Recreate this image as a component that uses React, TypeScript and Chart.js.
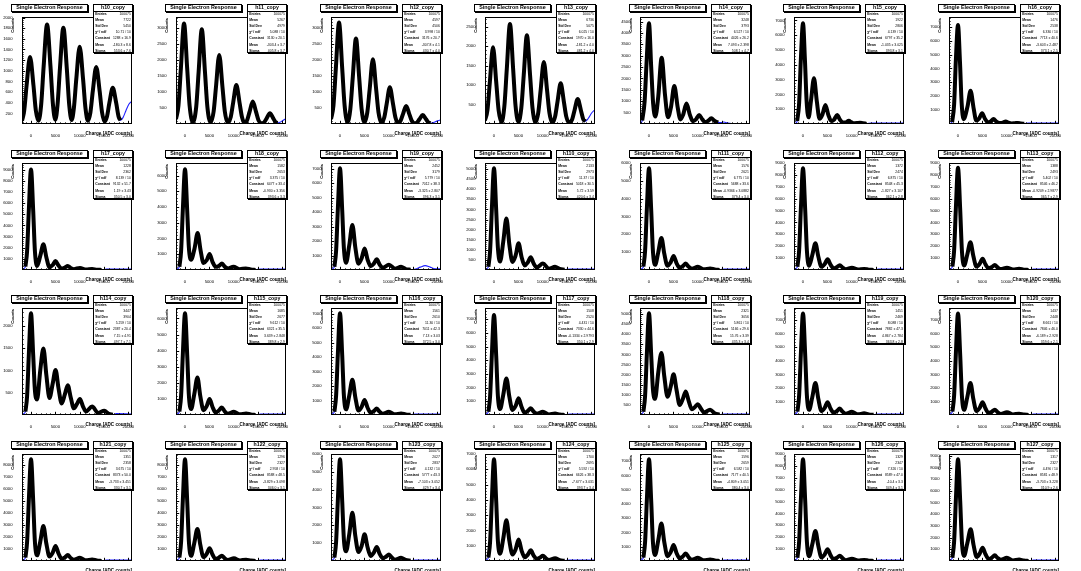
import React, { useEffect, useRef } from 'react';
import { Chart, registerables } from 'chart.js';
Chart.register(...registerables);

const FONT = '"Liberation Sans", Arial, Helvetica, sans-serif';
const X_MIN = -1850;
const X_MAX = 20750;
const X_TICKS = [0, 5000, 10000, 15000, 20000];
const X_MINOR_STEP = 1000;
const TITLE = 'Single Electron Response';
const X_TITLE = 'Charge [ADC counts]';
const Y_TITLE = 'Counts';
const STAT_LABELS = ['Entries', 'Mean', 'Std Dev', 'χ² / ndf', 'Constant', 'Mean', 'Sigma'];

// ---------------- row 1 ----------------
const h10Hist = [[-1850, 60], [-1400, 250], [-900, 730], [-200, 1260], [500, 730], [1000, 250], [1550, 60],
  [2100, 375], [2600, 1085], [3300, 1870], [4000, 1085], [4500, 375], [5000, 80],
  [5450, 360], [5950, 1050], [6650, 1810], [7350, 1050], [7850, 360], [8350, 75],
  [8800, 290], [9300, 840], [10000, 1450], [10700, 840], [11200, 290], [11700, 60],
  [12200, 215], [12700, 620], [13400, 1070], [14100, 620], [14600, 215], [15100, 45],
  [15600, 135], [16100, 395], [16800, 680], [17500, 395], [18000, 135], [18400, 70]];
const h10FitHead = [];
const h10FitTail = [[18900, 120], [19500, 250], [20100, 370], [20750, 430]];
const h10Stats = ['100075', '7722', '5450', '10.71 / 10', '1288 ± 16.9', '-180.3 ± 8.6', '553.6 ± 7.6'];

const h11Hist = [[-1850, 150], [-1350, 565], [-850, 1720], [-200, 3130], [450, 1720], [950, 565], [1625, 60],
  [2300, 530], [2800, 1620], [3450, 2950], [4100, 1620], [4600, 530], [5240, 50],
  [5880, 390], [6380, 1180], [7030, 2150], [7680, 1180], [8180, 390], [8790, 40],
  [9400, 220], [9900, 670], [10550, 1215], [11200, 670], [11700, 220], [12240, 30],
  [12780, 125], [13280, 385], [13930, 700], [14580, 385], [15080, 125], [15690, 25],
  [16300, 60], [16800, 183], [17450, 333], [18100, 183], [18600, 60], [19000, 35]];
const h11FitHead = [];
const h11FitTail = [[19500, 55], [20100, 110], [20750, 170]];
const h11Stats = ['100075', '5267', '4979', '5.088 / 10', '3130 ± 20.1', '-303.4 ± 3.7', '405.8 ± 3.7'];

const h12Hist = [[-1850, 150], [-1350, 570], [-850, 1750], [-200, 3176], [450, 1750], [950, 570], [1540, 60],
  [2130, 480], [2630, 1475], [3280, 2680], [3930, 1475], [4430, 480], [5020, 50],
  [5610, 365], [6110, 1115], [6760, 2025], [7410, 1115], [7910, 365], [8500, 40],
  [9090, 205], [9590, 630], [10240, 1150], [10890, 630], [11390, 205], [11920, 30],
  [12440, 100], [12940, 310], [13590, 563], [14240, 310], [14740, 100], [15300, 20],
  [15850, 50], [16350, 155], [17000, 282], [17650, 155], [18150, 50], [18600, 25]];
const h12FitHead = [];
const h12FitTail = [[19200, 45], [19900, 90], [20750, 135]];
const h12Stats = ['100075', '4597', '4506', '3.998 / 10', '3176 ± 20.7', '-307.8 ± 4.1', '430.7 ± 4.0'];

const h13Hist = [[-1850, 95], [-1350, 355], [-850, 1085], [-200, 1970], [450, 1085], [950, 355], [1540, 50],
  [2130, 460], [2630, 1415], [3280, 2570], [3930, 1415], [4430, 460], [5020, 55],
  [5610, 410], [6110, 1255], [6760, 2280], [7410, 1255], [7910, 410], [8500, 45],
  [9090, 285], [9590, 880], [10240, 1595], [10890, 880], [11390, 285], [11970, 35],
  [12550, 190], [13050, 575], [13700, 1045], [14350, 575], [14850, 190], [15450, 35],
  [16050, 115], [16550, 355], [17200, 645], [17850, 355], [18350, 115], [18800, 70]];
const h13FitHead = [];
const h13FitTail = [[19400, 150], [20100, 290], [20750, 370]];
const h13Stats = ['100075', '6736', '5075', '6.025 / 10', '1970 ± 16.0', '-181.2 ± 4.0', '481.2 ± 4.0'];

const h14Hist = [[-1400, 150], [-900, 1000], [-500, 2700], [0, 4420], [450, 2500], [850, 900], [1300, 330],
  [1900, 1200], [2600, 2915], [3300, 1250], [3900, 300],
  [4500, 720], [5200, 1670], [5900, 720], [6450, 200],
  [7000, 400], [7700, 895], [8400, 400], [9000, 120],
  [9600, 190], [10300, 395], [11000, 190], [11550, 80],
  [12100, 130], [12800, 250], [13500, 130], [14200, 60]];
const h14FitHead = [[-1850, 10], [-1600, 60]];
const h14FitTail = [[14800, 60], [15400, 90], [16000, 50], [17000, 15], [18500, 8], [20750, 5]];
const h14Stats = ['100075', '3248', '3793', '6.527 / 10', '4426 ± 26.2', '7.093 ± 2.398', '508.1 ± 4.7'];

const h15Hist = [[-1200, 200], [-800, 1400], [-450, 4300], [0, 6800], [400, 4300], [750, 1500], [1150, 450],
  [1650, 1600], [2250, 3090], [2850, 1500], [3400, 350],
  [4000, 650], [4600, 1290], [5200, 620], [5800, 200],
  [6400, 300], [7000, 610], [7600, 290], [8200, 100],
  [8800, 110], [9400, 215], [10000, 100], [10600, 50],
  [11100, 60], [11700, 90], [12300, 45], [13000, 20]];
const h15FitHead = [[-1850, 10], [-1500, 60]];
const h15FitTail = [[14000, 60], [16000, 70], [20750, 70]];
const h15Stats = ['100075', '1922', '2806', '4.139 / 10', '6797 ± 35.2', '-1.035 ± 3.025', '393.8 ± 3.1'];

const h16Hist = [[-1200, 150], [-800, 1400], [-450, 4500], [0, 7120], [400, 4500], [750, 1500], [1150, 350],
  [1950, 1250], [2580, 2390], [3200, 1150], [3750, 250],
  [4350, 400], [4950, 770], [5550, 370], [6150, 120],
  [6700, 180], [7300, 360], [7900, 170], [8550, 80],
  [9200, 100], [9800, 180], [10400, 90], [11000, 40],
  [11700, 60], [12300, 80], [12900, 40], [13600, 15]];
const h16FitHead = [[-1850, 10], [-1500, 60]];
const h16FitTail = [[14500, 75], [20750, 75]];
const h16Stats = ['100075', '1476', '2538', '6.330 / 10', '7713 ± 40.6', '-3.603 ± 2.487', '373.1 ± 2.5'];

// ---------------- row 2 ----------------
const h17Hist = [[-1150, 300], [-800, 1710], [-450, 5320], [0, 9020], [450, 5320], [800, 1710], [1250, 370],
  [1900, 1265], [2550, 2300], [3150, 1150], [3800, 240],
  [4450, 445], [5050, 805], [5650, 400], [6300, 125],
  [6950, 215], [7550, 355], [8150, 180], [8800, 75],
  [10050, 190], [11300, 36], [12550, 90], [13500, 27], [14500, 7]];
const h17FitHead = [[-1850, 30], [-1500, 110]];
const h17FitTail = [[15500, 96], [20750, 96]];
const h17Stats = ['100075', '1228', '2362', '8.139 / 10', '9132 ± 51.7', '1.19 ± 3.43', '350.5 ± 3.0'];

const h18Hist = [[-1150, 210], [-800, 1220], [-450, 3780], [0, 6400], [450, 3780], [800, 1400], [1250, 650],
  [1950, 1350], [2600, 2350], [3200, 1250], [3800, 450],
  [4450, 620], [5050, 1020], [5650, 520], [6300, 200],
  [6950, 260], [7600, 410], [8200, 200], [8850, 100],
  [9950, 205], [11250, 50], [12500, 100], [13500, 30], [14500, 8]];
const h18FitHead = [[-1850, 20], [-1500, 80]];
const h18FitTail = [[15500, 68], [20750, 68]];
const h18Stats = ['100075', '1582', '2653', '3.375 / 10', '6477 ± 33.4', '-0.930 ± 3.356', '393.6 ± 3.3'];

const h19Hist = [[-1150, 230], [-800, 1340], [-450, 4150], [0, 7030], [450, 4150], [800, 1500], [1250, 500],
  [1900, 1710], [2550, 3110], [3150, 1555], [3800, 440],
  [4450, 815], [5050, 1480], [5650, 740], [6300, 260],
  [6950, 440], [7550, 740], [8150, 370], [8800, 150],
  [10050, 370], [11300, 90], [12550, 220], [13500, 65], [14500, 20]];
const h19FitHead = [[-1850, 22], [-1500, 90]];
const h19FitTail = [[15500, 60], [16500, 200], [17500, 300], [18500, 200], [19500, 90], [20750, 75]];
const h19Stats = ['100075', '2452', '3179', '5.779 / 10', '7012 ± 38.3', '-3.325 ± 2.807', '396.3 ± 3.1'];

const h110Hist = [[-1150, 165], [-800, 955], [-450, 2970], [0, 5035], [450, 2970], [800, 1100], [1250, 420],
  [1900, 1400], [2550, 2545], [3150, 1270], [3800, 400],
  [4450, 730], [5050, 1325], [5650, 660], [6300, 220],
  [6950, 380], [7550, 636], [8150, 320], [8800, 130],
  [10050, 318], [11300, 65], [12550, 160], [13500, 48], [14500, 13]];
const h110FitHead = [[-1850, 16], [-1500, 64]];
const h110FitTail = [[15500, 53], [20750, 53]];
const h110Stats = ['100075', '2133', '2973', '11.37 / 10', '5018 ± 30.5', '5.72 ± 3.59', '420.6 ± 3.4'];

const h111Hist = [[-1150, 190], [-800, 1080], [-450, 3360], [0, 5700], [450, 3360], [800, 1080], [1250, 290],
  [1900, 990], [2550, 1800], [3150, 900], [3800, 235],
  [4450, 430], [5050, 780], [5650, 390], [6300, 125],
  [6950, 215], [7550, 360], [8150, 180], [8800, 72],
  [10050, 180], [11300, 36], [12550, 90], [13500, 27], [14500, 7]];
const h111FitHead = [[-1850, 18], [-1500, 72]];
const h111FitTail = [[15500, 60], [20750, 60]];
const h111Stats = ['100075', '1576', '2621', '6.775 / 10', '5688 ± 33.6', '-0.9366 ± 3.0882', '379.4 ± 3.0'];

const h112Hist = [[-1150, 280], [-800, 1625], [-450, 5045], [0, 8550], [450, 5045], [800, 1625], [1250, 360],
  [1900, 1240], [2550, 2250], [3150, 1125], [3800, 270],
  [4450, 495], [5050, 900], [5650, 450], [6300, 140],
  [6950, 245], [7550, 405], [8150, 200], [8800, 72],
  [10050, 180], [11300, 36], [12550, 90], [13500, 27], [14500, 7]];
const h112FitHead = [[-1850, 27], [-1500, 108]];
const h112FitTail = [[15500, 90], [20750, 90]];
const h112Stats = ['100075', '1372', '2474', '6.875 / 10', '8548 ± 45.3', '-1.827 ± 3.107', '362.1 ± 2.8'];

const h113Hist = [[-1150, 285], [-800, 1635], [-450, 5075], [0, 8600], [450, 5075], [800, 1635], [1250, 375],
  [1900, 1290], [2550, 2340], [3150, 1170], [3800, 285],
  [4450, 520], [5050, 945], [5650, 470], [6300, 145],
  [6950, 250], [7550, 420], [8150, 210], [8800, 76],
  [10050, 190], [11300, 38], [12550, 95], [13500, 28], [14500, 8]];
const h113FitHead = [[-1850, 27], [-1500, 108]];
const h113FitTail = [[15500, 90], [20750, 90]];
const h113Stats = ['100075', '1388', '2493', '5.402 / 10', '8546 ± 46.2', '-0.9209 ± 2.9877', '365.7 ± 2.9'];

// ---------------- row 3 ----------------
const h114Hist = [[-1150, 75], [-800, 430], [-450, 1345], [0, 2280], [450, 1345], [800, 560], [1250, 350],
  [1900, 1000], [2550, 1490], [3150, 900], [3800, 380],
  [4450, 700], [5050, 1010], [5650, 600], [6300, 260],
  [6950, 460], [7550, 670], [8150, 400], [8800, 150],
  [9450, 250], [10050, 360], [10650, 200], [11300, 80],
  [12550, 190], [13800, 45], [15050, 96], [16000, 25], [16800, 8]];
const h114FitHead = [[-1850, 7], [-1500, 29]];
const h114FitTail = [[17500, 30], [20750, 24]];
const h114Stats = ['100075', '3447', '3904', '5.259 / 10', '2387 ± 20.4', '7.15 ± 4.91', '497.7 ± 7.1'];

const h115Hist = [[-1150, 210], [-800, 1200], [-450, 3730], [0, 6320], [450, 3730], [800, 1200], [1250, 370],
  [1900, 1280], [2550, 2330], [3150, 1165], [3800, 300],
  [4450, 550], [5050, 1000], [5650, 500], [6300, 160],
  [6950, 280], [7550, 465], [8150, 230], [8800, 80],
  [10050, 200], [11300, 40], [12550, 100], [13500, 30], [14500, 8]];
const h115FitHead = [[-1850, 20], [-1500, 80]];
const h115FitTail = [[15500, 66], [20750, 66]];
const h115Stats = ['100075', '1685', '2677', '9.612 / 10', '6321 ± 35.5', '3.639 ± 2.848', '389.8 ± 2.9'];

const h116Hist = [[-1150, 230], [-800, 1335], [-450, 4150], [0, 7030], [450, 4150], [800, 1335], [1250, 390],
  [1900, 1340], [2550, 2440], [3150, 1220], [3800, 310],
  [4450, 570], [5050, 1036], [5650, 520], [6300, 155],
  [6950, 265], [7550, 444], [8150, 220], [8800, 90],
  [10050, 222], [11300, 45], [12550, 110], [13500, 33], [14500, 9]];
const h116FitHead = [[-1850, 22], [-1500, 89]];
const h116FitTail = [[15500, 74], [20750, 74]];
const h116Stats = ['100075', '1561', '2610', '11.30 / 10', '7011 ± 42.3', '7.13 ± 3.03', '372.5 ± 3.0'];

const h117Hist = [[-1150, 240], [-800, 1390], [-450, 4320], [0, 7320], [450, 4320], [800, 1390], [1250, 430],
  [1900, 1475], [2550, 2680], [3150, 1340], [3800, 370],
  [4450, 670], [5050, 1220], [5650, 610], [6300, 170],
  [6950, 295], [7550, 490], [8150, 245], [8800, 95],
  [10050, 240], [11300, 45], [12550, 110], [13500, 33], [14500, 9]];
const h117FitHead = [[-1850, 23], [-1500, 94]];
const h117FitTail = [[15500, 78], [20750, 78]];
const h117Stats = ['100075', '1508', '2520', '4.431 / 10', '7330 ± 44.6', '-0.1334 ± 2.9793', '350.1 ± 2.9'];

const h118Hist = [[-1150, 165], [-800, 955], [-450, 2970], [0, 5035], [450, 2970], [800, 1300], [1250, 800],
  [1900, 2100], [2550, 3075], [3150, 1900], [3800, 900],
  [4450, 1400], [5050, 2015], [5650, 1250], [6300, 500],
  [6950, 800], [7550, 1165], [8150, 700], [8800, 280],
  [9450, 400], [10050, 530], [10650, 320], [11300, 120],
  [12550, 265], [13500, 80], [14500, 20]];
const h118FitHead = [[-1850, 16], [-1500, 64]];
const h118FitTail = [[15500, 53], [20750, 53]];
const h118Stats = ['100075', '2321', '3056', '5.861 / 10', '5166 ± 29.6', '15.76 ± 3.39', '435.3 ± 3.4'];

const h119Hist = [[-1150, 250], [-800, 1425], [-450, 4425], [0, 7500], [450, 4425], [800, 1425], [1250, 380],
  [1900, 1300], [2550, 2370], [3150, 1185], [3800, 285],
  [4450, 520], [5050, 950], [5650, 475], [6300, 165],
  [6950, 285], [7550, 475], [8150, 235], [8800, 95],
  [10050, 237], [11300, 48], [12550, 120], [13500, 36], [14500, 10]];
const h119FitHead = [[-1850, 24], [-1500, 95]];
const h119FitTail = [[15500, 79], [20750, 79]];
const h119Stats = ['100075', '1451', '2469', '8.088 / 10', '7882 ± 47.3', '4.867 ± 2.784', '363.8 ± 2.8'];

const h120Hist = [[-1150, 250], [-800, 1425], [-450, 4425], [0, 7500], [450, 4425], [800, 1425], [1250, 380],
  [1900, 1300], [2550, 2370], [3150, 1185], [3800, 285],
  [4450, 520], [5050, 950], [5650, 475], [6300, 140],
  [6950, 240], [7550, 395], [8150, 200], [8800, 80],
  [10050, 200], [11300, 40], [12550, 100], [13500, 30], [14500, 8]];
const h120FitHead = [[-1850, 24], [-1500, 95]];
const h120FitTail = [[15500, 79], [20750, 79]];
const h120Stats = ['100075', '1437', '2448', '8.661 / 10', '7846 ± 46.0', '-6.189 ± 2.928', '359.6 ± 2.1'];

// ---------------- row 4 ----------------
const h121Hist = [[-1150, 280], [-800, 1610], [-450, 4990], [0, 8460], [450, 4990], [800, 1610], [1250, 470],
  [1900, 1600], [2550, 2910], [3150, 1455], [3800, 375],
  [4450, 690], [5050, 1250], [5650, 625], [6300, 175],
  [6950, 300], [7550, 500], [8150, 250], [8800, 100],
  [10050, 270], [11300, 52], [12550, 130], [13500, 39], [14500, 10]];
const h121FitHead = [[-1850, 27], [-1500, 107]];
const h121FitTail = [[15500, 89], [20750, 89]];
const h121Stats = ['100075', '1351', '2358', '3.675 / 10', '8373 ± 50.0', '-3.733 ± 3.451', '330.7 ± 3.1'];

const h122Hist = [[-1150, 280], [-800, 1610], [-450, 4990], [0, 8460], [450, 4990], [800, 1610], [1250, 430],
  [1900, 1470], [2550, 2670], [3150, 1335], [3800, 320],
  [4450, 590], [5050, 1070], [5650, 535], [6300, 155],
  [6950, 270], [7550, 445], [8150, 220], [8800, 88],
  [10050, 220], [11300, 44], [12550, 110], [13500, 33], [14500, 9]];
const h122FitHead = [[-1850, 27], [-1500, 107]];
const h122FitTail = [[15500, 89], [20750, 89]];
const h122Stats = ['100075', '1296', '2327', '2.958 / 10', '8588 ± 48.5', '-3.829 ± 3.098', '346.0 ± 3.1'];

const h123Hist = [[-1150, 190], [-800, 1080], [-450, 3360], [0, 5700], [450, 3360], [800, 1200], [1250, 550],
  [1900, 1500], [2550, 2700], [3150, 1400], [3800, 500],
  [4450, 850], [5050, 1500], [5650, 780], [6300, 280],
  [6950, 470], [7550, 780], [8150, 400], [8800, 150],
  [9450, 240], [10050, 360], [10650, 190], [11300, 70],
  [12550, 180], [13500, 55], [14500, 15]];
const h123FitHead = [[-1850, 18], [-1500, 72]];
const h123FitTail = [[15500, 60], [20750, 60]];
const h123Stats = ['100075', '2027', '2837', '4.132 / 10', '5777 ± 43.3', '-7.103 ± 3.052', '429.7 ± 3.4'];

const h124Hist = [[-1150, 220], [-800, 1260], [-450, 3920], [0, 6650], [450, 3920], [800, 1300], [1250, 480],
  [1900, 1460], [2550, 2660], [3150, 1330], [3800, 420],
  [4450, 770], [5050, 1400], [5650, 700], [6300, 245],
  [6950, 420], [7550, 700], [8150, 350], [8800, 140],
  [9450, 230], [10050, 350], [10650, 175], [11300, 70],
  [12550, 175], [13500, 52], [14500, 14]];
const h124FitHead = [[-1850, 21], [-1500, 84]];
const h124FitTail = [[15500, 70], [20750, 70]];
const h124Stats = ['100075', '1700', '2695', '5.592 / 10', '6626 ± 38.3', '-7.677 ± 3.031', '393.7 ± 3.4'];

const h125Hist = [[-1150, 235], [-800, 1355], [-450, 4200], [0, 7125], [450, 4200], [800, 1355], [1250, 420],
  [1900, 1445], [2550, 2625], [3150, 1310], [3800, 340],
  [4450, 620], [5050, 1125], [5650, 560], [6300, 185],
  [6950, 320], [7550, 525], [8150, 260], [8800, 90],
  [10050, 225], [11300, 44], [12550, 110], [13500, 33], [14500, 9]];
const h125FitHead = [[-1850, 22], [-1500, 90]];
const h125FitTail = [[15500, 75], [20750, 75]];
const h125Stats = ['100075', '1596', '2659', '6.582 / 10', '7177 ± 40.5', '-4.809 ± 3.051', '380.4 ± 3.0'];

const h126Hist = [[-1150, 280], [-800, 1625], [-450, 5045], [0, 8550], [450, 5045], [800, 1625], [1250, 400],
  [1900, 1385], [2550, 2520], [3150, 1260], [3800, 300],
  [4450, 545], [5050, 990], [5650, 495], [6300, 160],
  [6950, 270], [7550, 450], [8150, 225], [8800, 72],
  [10050, 180], [11300, 36], [12550, 90], [13500, 27], [14500, 7]];
const h126FitHead = [[-1850, 27], [-1500, 108]];
const h126FitTail = [[15500, 90], [20750, 90]];
const h126Stats = ['100075', '1329', '2347', '7.326 / 10', '8589 ± 47.0', '-10.4 ± 3.3', '349.4 ± 3.1'];

const h127Hist = [[-1150, 285], [-800, 1655], [-450, 5140], [0, 8710], [450, 5140], [800, 1655], [1250, 435],
  [1900, 1495], [2600, 2715], [3200, 1360], [3850, 345],
  [4450, 630], [5050, 1146], [5650, 575], [6300, 170],
  [6950, 290], [7550, 486], [8150, 245], [8800, 110],
  [10050, 275], [11300, 52], [12550, 130], [13500, 39], [14500, 10]];
const h127FitHead = [[-1850, 28], [-1500, 110]];
const h127FitTail = [[15500, 92], [20750, 92]];
const h127Stats = ['100075', '1317', '2327', '4.490 / 10', '8581 ± 48.9', '-3.703 ± 3.228', '310.9 ± 2.6'];

const PANELS = [
  { name: 'h10_copy', hist: h10Hist, head: h10FitHead, tail: h10FitTail, stats: h10Stats, yMax: 2010, yStep: 200 },
  { name: 'h11_copy', hist: h11Hist, head: h11FitHead, tail: h11FitTail, stats: h11Stats, yMax: 3330, yStep: 500 },
  { name: 'h12_copy', hist: h12Hist, head: h12FitHead, tail: h12FitTail, stats: h12Stats, yMax: 3350, yStep: 500 },
  { name: 'h13_copy', hist: h13Hist, head: h13FitHead, tail: h13FitTail, stats: h13Stats, yMax: 2750, yStep: 500 },
  { name: 'h14_copy', hist: h14Hist, head: h14FitHead, tail: h14FitTail, stats: h14Stats, yMax: 4700, yStep: 500 },
  { name: 'h15_copy', hist: h15Hist, head: h15FitHead, tail: h15FitTail, stats: h15Stats, yMax: 7230, yStep: 1000 },
  { name: 'h16_copy', hist: h16Hist, head: h16FitHead, tail: h16FitTail, stats: h16Stats, yMax: 7700, yStep: 1000 },
  { name: 'h17_copy', hist: h17Hist, head: h17FitHead, tail: h17FitTail, stats: h17Stats, yMax: 9600, yStep: 1000 },
  { name: 'h18_copy', hist: h18Hist, head: h18FitHead, tail: h18FitTail, stats: h18Stats, yMax: 6800, yStep: 1000 },
  { name: 'h19_copy', hist: h19Hist, head: h19FitHead, tail: h19FitTail, stats: h19Stats, yMax: 7400, yStep: 1000 },
  { name: 'h110_copy', hist: h110Hist, head: h110FitHead, tail: h110FitTail, stats: h110Stats, yMax: 5300, yStep: 500 },
  { name: 'h111_copy', hist: h111Hist, head: h111FitHead, tail: h111FitTail, stats: h111Stats, yMax: 6000, yStep: 1000 },
  { name: 'h112_copy', hist: h112Hist, head: h112FitHead, tail: h112FitTail, stats: h112Stats, yMax: 9000, yStep: 1000 },
  { name: 'h113_copy', hist: h113Hist, head: h113FitHead, tail: h113FitTail, stats: h113Stats, yMax: 9000, yStep: 1000 },
  { name: 'h114_copy', hist: h114Hist, head: h114FitHead, tail: h114FitTail, stats: h114Stats, yMax: 2400, yStep: 500 },
  { name: 'h115_copy', hist: h115Hist, head: h115FitHead, tail: h115FitTail, stats: h115Stats, yMax: 6650, yStep: 1000 },
  { name: 'h116_copy', hist: h116Hist, head: h116FitHead, tail: h116FitTail, stats: h116Stats, yMax: 7400, yStep: 1000 },
  { name: 'h117_copy', hist: h117Hist, head: h117FitHead, tail: h117FitTail, stats: h117Stats, yMax: 7830, yStep: 1000 },
  { name: 'h118_copy', hist: h118Hist, head: h118FitHead, tail: h118FitTail, stats: h118Stats, yMax: 5300, yStep: 500 },
  { name: 'h119_copy', hist: h119Hist, head: h119FitHead, tail: h119FitTail, stats: h119Stats, yMax: 7900, yStep: 1000 },
  { name: 'h120_copy', hist: h120Hist, head: h120FitHead, tail: h120FitTail, stats: h120Stats, yMax: 7900, yStep: 1000 },
  { name: 'h121_copy', hist: h121Hist, head: h121FitHead, tail: h121FitTail, stats: h121Stats, yMax: 8900, yStep: 1000 },
  { name: 'h122_copy', hist: h122Hist, head: h122FitHead, tail: h122FitTail, stats: h122Stats, yMax: 8900, yStep: 1000 },
  { name: 'h123_copy', hist: h123Hist, head: h123FitHead, tail: h123FitTail, stats: h123Stats, yMax: 6000, yStep: 1000 },
  { name: 'h124_copy', hist: h124Hist, head: h124FitHead, tail: h124FitTail, stats: h124Stats, yMax: 7000, yStep: 1000 },
  { name: 'h125_copy', hist: h125Hist, head: h125FitHead, tail: h125FitTail, stats: h125Stats, yMax: 7500, yStep: 1000 },
  { name: 'h126_copy', hist: h126Hist, head: h126FitHead, tail: h126FitTail, stats: h126Stats, yMax: 9000, yStep: 1000 },
  { name: 'h127_copy', hist: h127Hist, head: h127FitHead, tail: h127FitTail, stats: h127Stats, yMax: 9170, yStep: 1000 },
];

// layout of one ROOT pad
const COLS = 7;
const PAD_W = 154.43;
const PAD_H = 145.7;
const CW = 154;
const CH = 146;
const FRAME = { left: 22, top: 17, right: 132, bottom: 124 };

const framePlugin = {
  id: 'rootFrame',
  afterDatasetsDraw(chart: any, _args: any, opts: any) {
    const { ctx, chartArea: a, scales } = chart;
    const xs = scales.x;
    const ys = scales.y;
    ctx.save();
    ctx.strokeStyle = '#000';
    ctx.lineWidth = 1;
    ctx.beginPath();
    const start = Math.ceil(X_MIN / X_MINOR_STEP) * X_MINOR_STEP;
    for (let v = start; v <= X_MAX; v += X_MINOR_STEP) {
      const px = Math.round(xs.getPixelForValue(v)) + 0.5;
      const len = v % 5000 === 0 ? 3.2 : 1.6;
      ctx.moveTo(px, a.bottom);
      ctx.lineTo(px, a.bottom - len);
    }
    const minor = opts.yStep / 5;
    for (let v = minor; v <= ys.max; v += minor) {
      const py = Math.round(ys.getPixelForValue(v)) + 0.5;
      const major = Math.abs(v / opts.yStep - Math.round(v / opts.yStep)) < 1e-6;
      ctx.moveTo(a.left, py);
      ctx.lineTo(a.left + (major ? 3.2 : 1.6), py);
    }
    ctx.stroke();
    ctx.strokeRect(Math.round(a.left) + 0.5, Math.round(a.top) + 0.5, Math.round(a.right - a.left) - 1, Math.round(a.bottom - a.top) - 1);
    ctx.restore();
  },
};

function toXY(arr: number[][]) {
  return arr.map(([x, y]) => ({ x, y }));
}

function Pad({ p, left, top }: any) {
  const ref = useRef<HTMLCanvasElement>(null);
  useEffect(() => {
    const yTicks: number[] = [];
    for (let v = p.yStep; v <= p.yMax + 1e-6; v += p.yStep) yTicks.push(v);
    const chart = new Chart(ref.current as HTMLCanvasElement, {
      type: 'line',
      data: {
        datasets: [
          {
            data: toXY(p.hist),
            borderColor: '#000000',
            borderWidth: 4,
            pointRadius: 0,
            fill: false,
            cubicInterpolationMode: 'monotone',
            order: 0,
          },
          {
            data: toXY([...p.head, ...p.hist, ...p.tail]),
            borderColor: '#1f1fff',
            borderWidth: 1.1,
            pointRadius: 0,
            fill: false,
            cubicInterpolationMode: 'monotone',
            order: 1,
          },
        ],
      },
      options: {
        animation: false,
        responsive: false,
        events: [],
        layout: { padding: { left: 0, top: FRAME.top, right: CW - FRAME.right, bottom: 0 } },
        plugins: { legend: { display: false }, tooltip: { enabled: false }, rootFrame: { yStep: p.yStep } } as any,
        scales: {
          x: {
            type: 'linear',
            min: X_MIN,
            max: X_MAX,
            grid: { display: false },
            border: { display: false },
            afterFit: (s: any) => { s.height = CH - FRAME.bottom; },
            afterBuildTicks: (s: any) => { s.ticks = X_TICKS.map((v) => ({ value: v })); },
            ticks: { autoSkip: false, maxRotation: 0, minRotation: 0, padding: 1.5, color: '#000', font: { family: FONT, size: 4.2 }, callback: (v: any) => String(v) },
          },
          y: {
            type: 'linear',
            min: 0,
            max: p.yMax,
            grid: { display: false },
            border: { display: false },
            afterFit: (s: any) => { s.width = FRAME.left; },
            afterBuildTicks: (s: any) => { s.ticks = yTicks.map((v) => ({ value: v })); },
            ticks: { autoSkip: false, padding: 1.5, color: '#000', font: { family: FONT, size: 4.2 }, callback: (v: any) => String(v) },
          },
        },
      } as any,
      plugins: [framePlugin],
    });
    return () => chart.destroy();
  }, [p]);

  const rowH = 6.2;
  return (
    <div style={{ position: 'absolute', left, top, width: CW, height: CH, fontFamily: FONT, color: '#000' }}>
      <canvas ref={ref} width={CW} height={CH} style={{ position: 'absolute', left: 0, top: 0 }} />
      <div style={{ position: 'absolute', left: 11, top: 4, width: 77, height: 7.5, boxSizing: 'border-box', border: '1px solid #000', boxShadow: '1px 1px 0 #000', background: '#fff', fontSize: 5.4, fontWeight: 'bold', lineHeight: '5.5px', textAlign: 'center', whiteSpace: 'nowrap' }}>{TITLE}</div>
      <div style={{ position: 'absolute', left: 93, top: 4, width: 40, height: 49, boxSizing: 'border-box', border: '1px solid #000', boxShadow: '1px 1px 0 #000', background: '#fff' }}>
        <div style={{ height: 6.5, boxSizing: 'border-box', borderBottom: '1px solid #000', fontSize: 5.2, lineHeight: '5.5px', textAlign: 'center', fontWeight: 'bold', whiteSpace: 'nowrap' }}>{p.name}</div>
        {STAT_LABELS.map((lab, i) => (
          <div key={i} style={{ position: 'absolute', left: 1.2, right: 1.2, top: 5.5 + i * rowH, height: rowH, lineHeight: rowH + 'px', fontSize: 3.4, display: 'flex', justifyContent: 'space-between', whiteSpace: 'nowrap' }}>
            <span style={{ fontWeight: 'bold' }}>{lab}</span>
            <span>{p.stats[i]}</span>
          </div>
        ))}
      </div>
      <div style={{ position: 'absolute', left: 9.5, top: 18, writingMode: 'vertical-rl', transform: 'rotate(180deg)', fontSize: 4.3, lineHeight: '5px', fontWeight: 'bold', whiteSpace: 'nowrap' }}>{Y_TITLE}</div>
      <div style={{ position: 'absolute', right: CW - FRAME.right, top: 130.5, fontSize: 4.6, lineHeight: '5px', fontWeight: 'bold', whiteSpace: 'nowrap' }}>{X_TITLE}</div>
    </div>
  );
}

export default function App() {
  return (
    <div style={{ position: 'fixed', left: 0, top: 0, width: 1081, height: 571, overflow: 'hidden', background: '#fff' }}>
      {PANELS.map((p, i) => (
        <Pad key={p.name} p={p} left={Math.round((i % COLS) * PAD_W)} top={Math.round(Math.floor(i / COLS) * PAD_H)} />
      ))}
    </div>
  );
}
